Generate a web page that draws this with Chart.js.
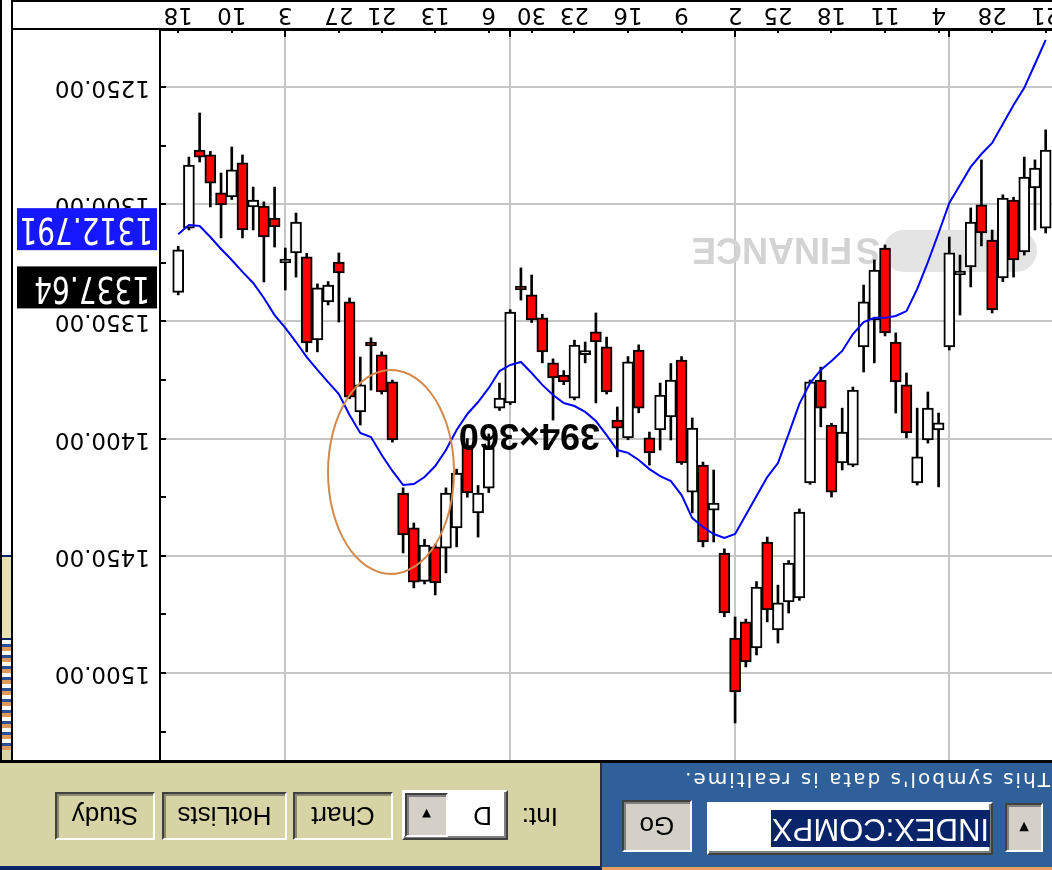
<!DOCTYPE html>
<html>
<head>
<meta charset="utf-8">
<script src="https://cdn.jsdelivr.net/npm/chart.js@4.4.1/dist/chart.umd.min.js"></script>
<style>
html, body { margin: 0; padding: 0; background: #fff; overflow: hidden; }
/* the whole screenshot is shown upside down */
#page { position: relative; width: 1052px; height: 870px; overflow: hidden; background: #fff; transform: rotate(180deg); }
#chart { position: absolute; left: 0; top: 110px; }
.abs { position: absolute; box-sizing: border-box; }
.btn { position: absolute; box-sizing: border-box; background: #d6d3a4; border: 2px solid; border-color: #fff #404040 #404040 #fff;
       box-shadow: inset -2px -2px 0 #8a8870; font: 26px "Liberation Sans", Arial, sans-serif; color: #000;
       display: flex; align-items: center; justify-content: center; }
.grey { background: #d4d0c8; box-shadow: inset -2px -2px 0 #808080; }
.field { position: absolute; box-sizing: border-box; background: #fff; border: 2px solid; border-color: #404040 #fff #fff #404040;
         box-shadow: inset 2px 2px 0 #808080; }
</style>
</head>
<body>
<div id="page">
  <!-- toolbar -->
  <div class="abs" style="left:0;top:0;width:450px;height:108px;background:#30609a;border-top:3px solid #e8a060;"></div>
  <div class="abs" style="left:450px;top:0;width:602px;height:108px;background:#d6d3a4;border-top:4px solid #0a246a;border-left:2px solid #303030;"></div>

  <div class="btn grey" style="left:9px;top:18px;width:38px;height:49px;font-size:16px;">&#9660;</div>
  <div class="field" style="left:59px;top:15px;width:286px;height:53px;">
    <span class="abs" style="left:1px;top:6px;height:37px;line-height:37px;padding:0 1px;background:#0a246a;color:#fff;font:31px 'Liberation Sans', Arial, sans-serif;">INDEX:COMPX</span>
  </div>
  <div class="btn grey" style="left:360px;top:18px;width:70px;height:52px;">Go</div>
  <div class="abs" style="left:2px;top:78px;color:#fff;font:20px 'DejaVu Sans', sans-serif;letter-spacing:2px;white-space:nowrap;">This symbol's data is realtime.</div>

  <div class="abs" style="left:494px;top:38px;font:26px 'Liberation Sans', Arial, sans-serif;">Int:</div>
  <div class="field" style="left:544px;top:30px;width:106px;height:50px;">
    <span class="abs" style="left:14px;top:7px;font:26px 'Liberation Sans', Arial, sans-serif;">D</span>
    <div class="btn grey" style="left:58px;top:1px;width:43px;height:44px;font-size:15px;">&#9660;</div>
  </div>
  <div class="btn" style="left:659px;top:30px;width:100px;height:48px;">Chart</div>
  <div class="btn" style="left:765px;top:30px;width:125px;height:48px;">HotLists</div>
  <div class="btn" style="left:897px;top:30px;width:100px;height:48px;">Study</div>

  <!-- chart frame -->
  <div class="abs" style="left:0;top:107px;width:1052px;height:3px;background:#000;"></div>
  <canvas id="chart" width="1040" height="760"></canvas>
  <div class="abs" style="left:0;top:868px;width:1040px;height:2px;background:#000;"></div>

  <!-- window edge on the right -->
  <div class="abs" style="left:1039px;top:110px;width:13px;height:760px;background:#fff;border-left:2px solid #000;border-right:2px solid #000;"></div>
  <div class="abs" style="left:1041px;top:110px;width:9px;height:10px;background:#d6d3a4;"></div>
  <div class="abs" style="left:1041px;top:120px;width:9px;height:110px;background:repeating-linear-gradient(180deg,#e09a58 0 4px,#2a4f9a 4px 7px,#fff 7px 11px);"></div>
  <div class="abs" style="left:1041px;top:230px;width:9px;height:85px;background:#e4e0b0;border-top:2px solid #0a246a;border-bottom:2px solid #0a246a;"></div>

  <!-- annotations on top of the plot -->
  <div class="abs" style="left:452px;top:417px;font:bold 36px 'Liberation Sans', Arial, sans-serif;line-height:34px;color:#000;white-space:nowrap;">394×360</div>
  <div class="abs" style="left:597px;top:295px;width:128px;height:206px;border:2px solid #d4884c;border-radius:50%;"></div>
</div>

<script>
// trading days, Oct 21 2002 .. Feb 18 2003
const dates = [
  '10/21','10/22','10/23','10/24','10/25','10/28','10/29','10/30','10/31','11/01',
  '11/04','11/05','11/06','11/07','11/08','11/11','11/12','11/13','11/14','11/15',
  '11/18','11/19','11/20','11/21','11/22','11/25','11/26','11/27','11/29',
  '12/02','12/03','12/04','12/05','12/06','12/09','12/10','12/11','12/12','12/13',
  '12/16','12/17','12/18','12/19','12/20','12/23','12/24','12/26','12/27','12/30','12/31',
  '01/02','01/03','01/06','01/07','01/08','01/09','01/10','01/13','01/14','01/15','01/16','01/17',
  '01/21','01/22','01/23','01/24','01/27','01/28','01/29','01/30','01/31',
  '02/03','02/04','02/05','02/06','02/07','02/10','02/11','02/12','02/13','02/14','02/18'
];

const opens = [
  1276.9, 1284.6, 1288.4, 1323.8, 1297.4, 1345.1, 1312.3, 1307.6, 1328.5, 1320.8,
  1393.3, 1387.0, 1407.8, 1397.6, 1375.8, 1354.9, 1328.1, 1341.7, 1379.3, 1397.2,
  1422.8, 1387.0, 1375.8, 1431.3, 1453.1, 1470.1, 1473.1, 1463.3, 1495.3, 1508.1,
  1474.4, 1427.5, 1444.1, 1395.5, 1410.4, 1375.0, 1381.4, 1406.1, 1387.0, 1367.3,
  1395.5, 1380.1, 1358.8, 1362.5, 1360.1, 1375.8, 1374.1, 1363.0, 1349.4, 1336.6,
  1346.0, 1382.7, 1404.0, 1423.2, 1423.2, 1414.7, 1423.2, 1461.6, 1445.4, 1461.2,
  1441.1, 1400.6, 1380.1, 1360.1, 1377.1, 1382.3, 1329.3, 1334.5, 1335.7, 1359.2,
  1307.6, 1323.4, 1309.7, 1314.0, 1298.2, 1311.0, 1285.4, 1300.3, 1291.0, 1279.9,
  1283.3, 1319.5
];
const highs = [
  1312.3, 1311.0, 1321.7, 1331.1, 1333.0, 1346.4, 1317.8, 1335.3, 1347.3, 1362.2,
  1420.6, 1401.9, 1419.8, 1399.7, 1389.1, 1356.2, 1367.7, 1371.6, 1412.0, 1413.4,
  1424.9, 1395.0, 1419.5, 1469.0, 1474.4, 1487.2, 1478.2, 1492.3, 1497.4, 1521.3,
  1476.0, 1444.1, 1446.2, 1431.7, 1411.0, 1400.6, 1404.9, 1411.3, 1389.0, 1400.5,
  1407.8, 1381.0, 1384.8, 1367.7, 1383.5, 1377.0, 1392.1, 1367.7, 1350.5, 1340.9,
  1385.5, 1388.0, 1423.0, 1442.0, 1425.0, 1446.2, 1457.3, 1466.7, 1462.0, 1463.7,
  1448.8, 1401.5, 1381.0, 1379.3, 1394.2, 1383.0, 1350.3, 1343.0, 1363.0, 1363.0,
  1331.1, 1336.6, 1318.3, 1333.2, 1311.0, 1314.4, 1298.0, 1314.4, 1301.2, 1282.0,
  1311.0, 1338.7
];
const lows = [
  1268.3, 1281.1, 1279.9, 1297.0, 1296.0, 1311.0, 1281.1, 1301.6, 1321.7, 1314.0,
  1389.1, 1380.1, 1387.0, 1372.0, 1354.9, 1317.4, 1323.8, 1334.5, 1378.0, 1387.0,
  1393.5, 1369.5, 1375.0, 1430.0, 1452.0, 1462.5, 1442.0, 1461.0, 1477.0, 1476.1,
  1447.0, 1413.4, 1410.0, 1391.2, 1365.0, 1368.0, 1376.3, 1397.2, 1360.0, 1365.0,
  1386.5, 1356.7, 1346.4, 1358.8, 1358.0, 1371.0, 1366.0, 1347.0, 1330.2, 1327.2,
  1345.0, 1376.3, 1398.0, 1420.0, 1400.0, 1413.0, 1421.0, 1445.0, 1443.0, 1436.0,
  1421.0, 1375.0, 1363.0, 1357.0, 1365.2, 1340.0, 1320.8, 1333.0, 1334.0, 1321.0,
  1303.8, 1318.7, 1292.7, 1299.0, 1292.7, 1279.0, 1275.6, 1286.7, 1277.5, 1261.1,
  1279.9, 1318.0
];
const closes = [
  1310.2, 1293.1, 1320.4, 1298.2, 1331.5, 1315.3, 1300.3, 1326.8, 1329.0, 1360.9,
  1396.3, 1400.6, 1418.9, 1377.1, 1358.8, 1318.7, 1349.4, 1360.9, 1411.3, 1410.4,
  1394.2, 1375.0, 1418.9, 1468.0, 1469.7, 1481.6, 1444.1, 1489.3, 1478.2, 1485.1,
  1448.8, 1430.5, 1411.3, 1422.8, 1366.5, 1390.8, 1396.3, 1399.7, 1362.2, 1399.7,
  1392.1, 1360.9, 1354.5, 1363.2, 1382.7, 1372.9, 1367.7, 1348.5, 1338.7, 1334.9,
  1384.8, 1387.0, 1421.1, 1431.7, 1403.0, 1438.1, 1446.7, 1446.2, 1460.9, 1438.1,
  1423.2, 1375.8, 1364.3, 1358.8, 1388.6, 1341.7, 1324.7, 1341.7, 1357.9, 1322.5,
  1320.8, 1323.8, 1305.9, 1300.8, 1301.2, 1282.4, 1296.9, 1295.2, 1279.0, 1276.9,
  1310.2, 1337.64
];
// moving average
const ma = [
  1229.9, 1240.2, 1250.4, 1257.7, 1265.8, 1273.9, 1278.6, 1284.1, 1291.8, 1299.5,
  1312.3, 1324.7, 1336.2, 1345.6, 1347.7, 1348.5, 1348.5, 1350.3, 1355.4, 1362.6,
  1366.9, 1370.7, 1376.3, 1385.2, 1398.0, 1410.4, 1416.4, 1424.5, 1432.6, 1440.7,
  1442.4, 1440.7, 1437.7, 1433.9, 1424.1, 1418.1, 1416.0, 1413.0, 1409.1, 1406.1,
  1404.9, 1398.5, 1392.5, 1388.6, 1386.1, 1384.8, 1381.4, 1377.1, 1372.0, 1367.3,
  1368.6, 1371.2, 1378.4, 1384.4, 1389.5, 1396.3, 1404.9, 1411.7, 1416.4, 1419.4,
  1419.8, 1413.8, 1407.0, 1399.3, 1397.6, 1389.9, 1381.0, 1375.9, 1370.7, 1365.2,
  1358.8, 1352.8, 1347.3, 1340.0, 1333.6, 1328.9, 1323.8, 1319.1, 1314.0, 1309.3,
  1308.9, 1312.791
];

// first trading day of each week (labelled) and of each month (grid line)
const weekTicks = [0, 5, 10, 15, 20, 25, 29, 34, 39, 44, 48, 52, 57, 62, 66, 71, 76, 81];
const monthTicks = [9, 29, 50, 71];
const priceTicks = [1250, 1275, 1300, 1325, 1350, 1375, 1400, 1425, 1450, 1475, 1500, 1525];

const xMin = -0.59, xMax = 82.7;
const yMin = 1225.7, yMax = 1537.1;

const last = closes.length - 1;
const wicks = lows.map((l, i) => ({x: i, y: [l, highs[i]]}));
const bodies = opens.map((o, i) => ({x: i, y: [o, closes[i]]}));
const bodyColors = opens.map((o, i) => closes[i] < o ? '#ff0000' : '#ffffff');
const allTicks = weekTicks.concat(monthTicks.filter(m => !weekTicks.includes(m))).sort((a, b) => a - b);

const extras = {
  id: 'extras',
  beforeDatasetsDraw(chart) {
    const c = chart.ctx;
    c.save();
    c.fillStyle = '#e4e4e4';
    c.beginPath();
    c.roundRect(15, 488, 154, 42, 21);
    c.fill();
    c.fillStyle = '#d3d3d3';
    c.font = 'bold 36px "Liberation Sans"';
    c.textBaseline = 'alphabetic';
    c.fillText('S', 172, 522);
    c.fillText('FINANCE', 200, 522);
    c.restore();
  },
  afterDraw(chart) {
    const c = chart.ctx, xs = chart.scales.x, ys = chart.scales.y, a = chart.chartArea;
    c.save();
    c.strokeStyle = '#000';
    c.lineWidth = 2;
    c.beginPath();
    c.moveTo(0, a.bottom + 1);
    c.lineTo(chart.width, a.bottom + 1);
    c.stroke();
    priceTicks.forEach(v => {
      const y = Math.round(ys.getPixelForValue(v));
      c.beginPath(); c.moveTo(a.right - 6, y); c.lineTo(a.right, y); c.stroke();
    });
    allTicks.forEach(i => {
      const x = Math.round(xs.getPixelForValue(i));
      const len = monthTicks.includes(i) ? 7 : 3;
      c.beginPath(); c.moveTo(x, a.bottom); c.lineTo(x, a.bottom - len); c.stroke();
    });

    const tag = (val, txt, bg, dx) => {
      const y = ys.getPixelForValue(val) + 5;
      c.fillStyle = bg;
      c.fillRect(a.right + 3, y - 21, 140, 42);
      c.save();
      c.translate(a.right + dx, y);
      c.scale(1, 1.3);
      c.fillStyle = '#fff';
      c.font = '28px "DejaVu Sans"';
      c.textAlign = 'left';
      c.textBaseline = 'middle';
      c.fillText(txt, 0, 1);
      c.restore();
    };
    tag(closes[last], closes[last].toFixed(2), '#000000', 10);
    tag(ma[last], ma[last].toFixed(3), '#1616ff', 7);
    c.restore();
  }
};

new Chart(document.getElementById('chart'), {
  type: 'bar',
  data: {
    datasets: [{
      type: 'line',
      data: ma.map((v, i) => ({x: i, y: v})),
      borderColor: '#0000ff',
      borderWidth: 2,
      pointRadius: 0,
      tension: 0,
      order: 0
    }, {
      data: bodies,
      backgroundColor: bodyColors,
      borderColor: '#000',
      borderWidth: 2,
      borderSkipped: false,
      barThickness: 11,
      minBarLength: 4,
      grouped: false,
      order: 1
    }, {
      data: wicks,
      backgroundColor: '#000',
      borderWidth: 0,
      barThickness: 2,
      grouped: false,
      order: 2
    }]
  },
  options: {
    responsive: false,
    animation: false,
    events: [],
    layout: { padding: 0 },
    plugins: { legend: { display: false }, tooltip: { enabled: false } },
    scales: {
      x: {
        type: 'linear',
        min: xMin,
        max: xMax,
        bounds: 'data',
        offset: false,
        afterBuildTicks: s => { s.ticks = allTicks.map(v => ({value: v})); },
        afterFit: s => { s.height = 30; s.paddingLeft = 0; s.paddingRight = 0; },
        ticks: {
          autoSkip: false,
          maxRotation: 0,
          padding: 2,
          color: '#000',
          font: { family: 'DejaVu Sans', size: 23 },
          callback: v => weekTicks.includes(v) ? String(parseInt(dates[v].slice(3), 10)) : ''
        },
        grid: {
          offset: false,
          drawTicks: false,
          lineWidth: 2,
          color: ctx => (ctx.tick && monthTicks.includes(ctx.tick.value)) ? '#c6c6c6' : 'rgba(0,0,0,0)'
        },
        border: { color: '#000', width: 2 }
      },
      y: {
        position: 'right',
        min: yMin,
        max: yMax,
        bounds: 'data',
        beginAtZero: false,
        afterBuildTicks: s => { s.ticks = priceTicks.map(v => ({value: v})); },
        afterFit: s => { s.width = 148; s.paddingTop = 0; s.paddingBottom = 0; },
        ticks: {
          padding: 10,
          color: '#000',
          font: { family: 'DejaVu Sans', size: 23 },
          callback: v => v % 50 === 0 ? v.toFixed(2) : ''
        },
        grid: {
          drawTicks: false,
          lineWidth: 2,
          color: ctx => (ctx.tick && ctx.tick.value % 50 === 0) ? '#c6c6c6' : 'rgba(0,0,0,0)'
        },
        border: { color: '#000', width: 2 }
      }
    }
  },
  plugins: [extras]
});
</script>
</body>
</html>
